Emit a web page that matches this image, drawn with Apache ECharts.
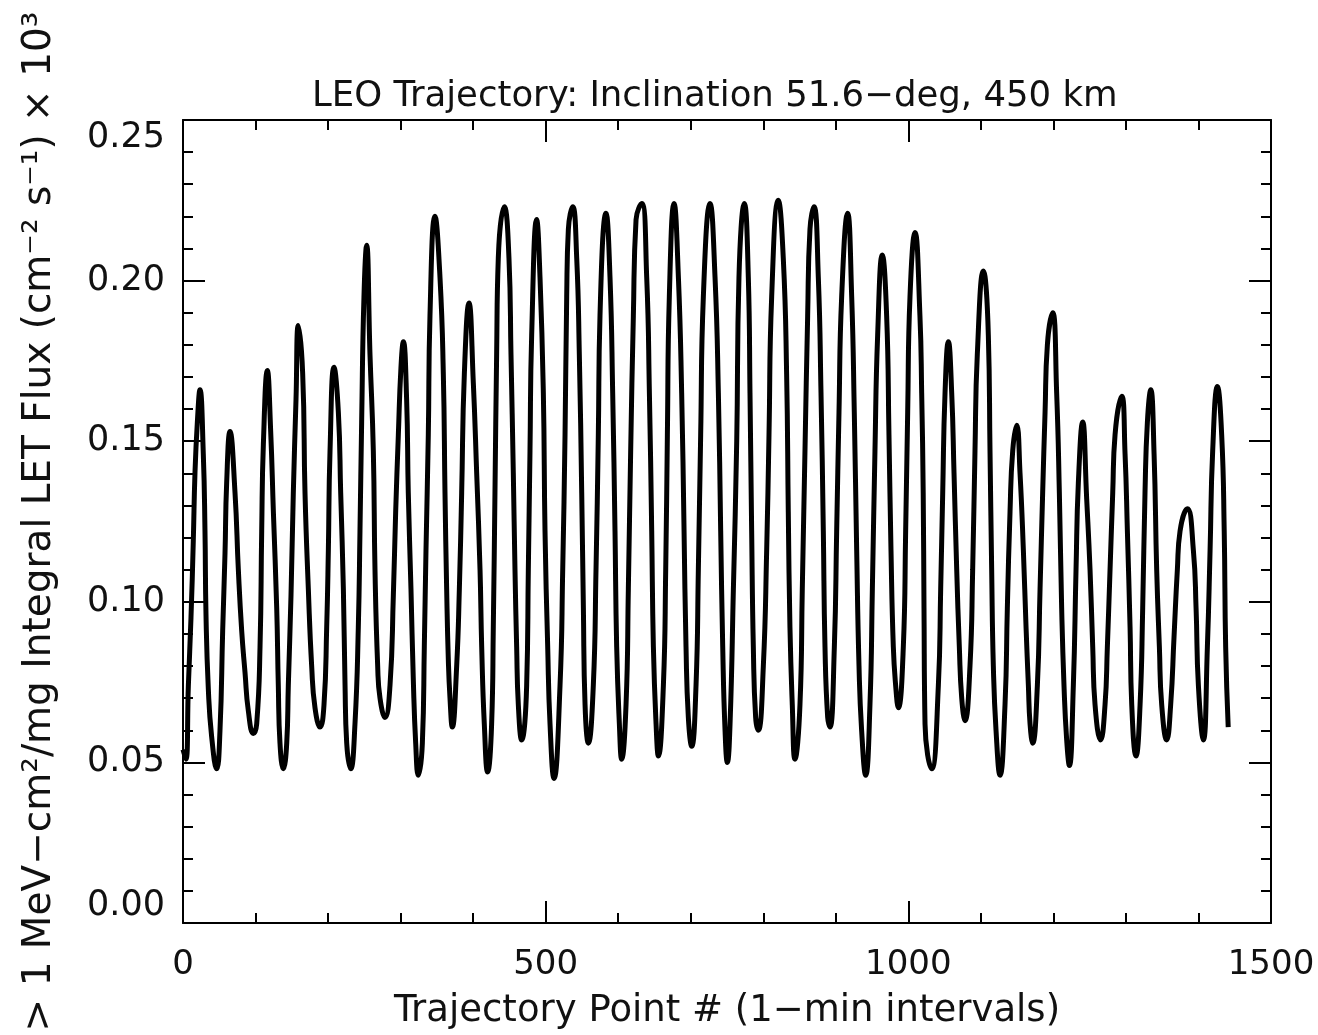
<!DOCTYPE html>
<html><head><meta charset="utf-8">
<script src="https://cdn.jsdelivr.net/npm/echarts@6/dist/echarts.min.js"></script>
<style>html,body{margin:0;padding:0;background:#fff}#c{width:1318px;height:1035px}</style>
</head><body><div id="c"></div>
<script>
// Trajectory point # (1-min intervals) (key points of the curve)
const pointIndex = [
  0, 4, 7.4, 11, 14.2, 16.5, 19.8, 23.4, 28, 30.3, 31.7, 34.9, 39.5, 46.4,
  51, 54.7, 57.9, 60.2, 64.8, 71.7, 76.3, 80.9, 85.5, 90.1, 97,
  101.6, 106.2, 108.5, 110.8, 116.3, 120.9, 124.6, 129.2, 131.4, 133.7, 138.3,
  143, 145.2, 148.9, 152.1, 155.8, 159, 165, 168.2, 172.8, 177.4, 182, 189,
  194.4, 198.1, 200.4, 202.7, 208.2, 214.2, 217.4, 221.1, 223.4, 225.7, 231.2,
  237.1, 241.7, 244, 246.3, 249.5, 253.2, 257.8, 262.4, 264.7, 268.4, 271.6, 278.5,
  285.4, 290, 293.2, 296.9, 300.5, 303.8, 308.3, 310.6, 314.3, 317.5, 320.8, 324.4,
  330, 332.7, 335, 338.2, 340.5, 347.4, 354.3, 358.9, 361.2, 363.5, 365.8, 368.1, 371.3,
  377.3, 381, 384.2, 387.9, 394.3, 400.3, 404.9, 409.5, 411.8, 415.4, 420,
  425.5, 427.8, 430.1, 432.4, 434.7, 443, 449.4, 452.2, 455.4, 457.7, 460, 462.3, 466.9,
  473.8, 476.1, 478.4, 480.7, 487.6, 492.2, 496.8, 499.1, 502.8, 506, 511.5,
  519.8, 523.5, 526.7, 529, 531.3, 537.3, 542.8, 546.4, 549.7, 552, 554.3, 558.9,
  565.7, 569.4, 572.6, 574.9, 583.2, 588.7, 592.4, 595.6, 597.9, 601.6, 604.8,
  610.8, 614, 617.2, 620.9, 624.6, 632.4, 639.3, 643, 646.2, 648.5, 652.2, 655.4,
  662.3, 665.5, 667.8, 670.5, 677, 683, 687.5, 690.8, 693.5, 696.7, 701.3,
  707.3, 710.5, 713.7, 717.4, 726.6, 733.5, 738.1, 741.3, 744.1, 747.3, 750.5,
  754.2, 758.8, 763.4, 766.5, 773.9, 779.4, 781.7, 784, 786.3, 789.5, 793.2,
  800.1, 804.7, 807.9, 811.6, 820.7, 827.6, 832.2, 834.5, 836.8, 840, 843.7,
  850.6, 853.8, 857.5, 861.2, 864.4, 869.9, 875.9, 879.6, 882.8, 885.1, 888.8, 892,
  898, 901.2, 904.4, 908.1, 916.3, 921.9, 925.5, 928.8, 932, 935.6, 941.2,
  947.1, 950.4, 954, 957.7, 964.1, 970.1, 973.3, 976.1, 979.3, 982.5, 986.2,
  993.1, 996.3, 999.1, 1002.3, 1009.2, 1016, 1018.4, 1020.5, 1021.6, 1023, 1032.2,
  1041.4, 1044.6, 1047.4, 1050.6, 1055.2, 1059.8, 1063, 1066.7, 1070.3, 1073.6, 1078.1,
  1085, 1088.7, 1091.9, 1095.1, 1103.4, 1110.3, 1112.6, 1114.9, 1117.2, 1120.9, 1126.4,
  1133.3, 1136.5, 1140.2, 1143.9, 1149.4, 1154, 1158.6, 1162.3, 1165.5, 1167.8, 1171.4,
  1177.9, 1181.6, 1185.2, 1188.5, 1191.7, 1199, 1204.5, 1208.2, 1211.4, 1214.6, 1218.3, 1222,
  1227.5, 1231.2, 1234.4, 1240.4, 1245.9, 1250.5, 1254.2, 1257.4, 1265,
  1271.2, 1274.4, 1278.1, 1281.8, 1285, 1294.2, 1298.8, 1302, 1305.7, 1308, 1313.9,
  1319.5, 1323.1, 1326.3, 1329.6, 1334.2, 1338.8, 1342.4, 1346.1, 1349.3, 1356.2,
  1361.7, 1366.3, 1370.9, 1374.6, 1384.7, 1393, 1396.7, 1399.9, 1406.8,
  1412.3, 1416, 1419.6, 1426.1, 1432, 1435.5, 1437.5, 1441
];
// > 1 MeV-cm2/mg integral LET flux (cm^-2 s^-1) x 10^3
const flux = [
  0.054, 0.051, 0.074, 0.095, 0.119, 0.140, 0.156, 0.166, 0.146, 0.122, 0.096, 0.073, 0.058, 0.048,
  0.060, 0.091, 0.115, 0.137, 0.153, 0.134, 0.110, 0.091, 0.078, 0.066, 0.059,
  0.062, 0.086, 0.122, 0.149, 0.172, 0.153, 0.128, 0.098, 0.074, 0.056, 0.048,
  0.056, 0.074, 0.102, 0.134, 0.163, 0.186, 0.171, 0.134, 0.104, 0.080, 0.067, 0.061,
  0.068, 0.092, 0.116, 0.147, 0.173, 0.159, 0.134, 0.104, 0.074, 0.056, 0.048,
  0.062, 0.092, 0.122, 0.156, 0.195, 0.211, 0.177, 0.147, 0.110, 0.080, 0.070, 0.064,
  0.074, 0.102, 0.128, 0.152, 0.173, 0.181, 0.163, 0.134, 0.104, 0.076, 0.056, 0.046,
  0.056, 0.086, 0.116, 0.152, 0.189, 0.220, 0.201, 0.171, 0.134, 0.104, 0.082, 0.070, 0.061,
  0.080, 0.104, 0.134, 0.171, 0.193, 0.168, 0.140, 0.110, 0.086, 0.062, 0.047,
  0.062, 0.092, 0.134, 0.177, 0.207, 0.223, 0.207, 0.177, 0.140, 0.110, 0.086, 0.068, 0.057,
  0.074, 0.110, 0.147, 0.183, 0.219, 0.201, 0.165, 0.122, 0.086, 0.062, 0.045,
  0.074, 0.110, 0.152, 0.195, 0.216, 0.223, 0.207, 0.177, 0.134, 0.098, 0.068, 0.056,
  0.074, 0.110, 0.152, 0.189, 0.221, 0.201, 0.165, 0.122, 0.086, 0.062, 0.051,
  0.068, 0.104, 0.147, 0.189, 0.219, 0.224, 0.201, 0.165, 0.122, 0.086, 0.062, 0.052,
  0.074, 0.110, 0.152, 0.195, 0.224, 0.201, 0.165, 0.122, 0.086, 0.064, 0.055,
  0.074, 0.110, 0.152, 0.195, 0.224, 0.201, 0.165, 0.122, 0.086, 0.060, 0.050,
  0.062, 0.104, 0.150, 0.201, 0.224, 0.201, 0.165, 0.122, 0.086, 0.064, 0.060,
  0.080, 0.116, 0.152, 0.195, 0.225, 0.207, 0.171, 0.128, 0.092, 0.068, 0.051,
  0.068, 0.104, 0.147, 0.189, 0.216, 0.223, 0.201, 0.165, 0.122, 0.086, 0.064, 0.061,
  0.086, 0.122, 0.159, 0.195, 0.221, 0.195, 0.159, 0.116, 0.080, 0.060, 0.046,
  0.068, 0.104, 0.147, 0.183, 0.208, 0.189, 0.152, 0.116, 0.086, 0.074, 0.067,
  0.086, 0.122, 0.159, 0.195, 0.215, 0.189, 0.165, 0.134, 0.098, 0.062, 0.048,
  0.074, 0.104, 0.134, 0.165, 0.181, 0.165, 0.140, 0.110, 0.086, 0.070, 0.063,
  0.080, 0.110, 0.147, 0.177, 0.203, 0.183, 0.147, 0.110, 0.080, 0.060, 0.046,
  0.068, 0.098, 0.128, 0.147, 0.155, 0.140, 0.116, 0.092, 0.074, 0.062, 0.056,
  0.074, 0.104, 0.134, 0.159, 0.180, 0.190, 0.165, 0.134, 0.098, 0.074, 0.057, 0.049,
  0.074, 0.110, 0.137, 0.156, 0.132, 0.110, 0.086, 0.068, 0.057,
  0.068, 0.086, 0.110, 0.134, 0.152, 0.164, 0.146, 0.122, 0.092, 0.068, 0.052,
  0.068, 0.098, 0.134, 0.156, 0.166, 0.146, 0.110, 0.086, 0.068, 0.057,
  0.068, 0.089, 0.110, 0.122, 0.129, 0.116, 0.098, 0.074, 0.057,
  0.086, 0.116, 0.147, 0.167, 0.152, 0.122, 0.086, 0.061
];
const xTickValues = [0, 500, 1000, 1500];
const yTickValues = [0.00, 0.05, 0.10, 0.15, 0.20, 0.25];

const titleText = 'LEO Trajectory: Inclination 51.6\u2212deg, 450 km';
const xName = 'Trajectory Point # (1\u2212min intervals)';
const yName = '> 1 MeV\u2212cm\u00b2/mg Integral LET Flux (cm\u207b\u00b2 s\u207b\u00b9) \u00d7 10\u00b3';

const FONT = 'DejaVu Sans';
const INK = '#000';
const TXT = '#111';

const chart = echarts.init(document.getElementById('c'), null, {renderer: 'canvas'});

function xAxisDef(pos, showLabel) {
  return {
    type: 'value', position: pos,
    min: xTickValues[0], max: xTickValues[xTickValues.length - 1],
    interval: xTickValues[1] - xTickValues[0],
    axisLine: {show: true, onZero: false, lineStyle: {color: INK, width: 2}},
    axisTick: {show: true, inside: true, length: 22, lineStyle: {color: INK, width: 2}},
    minorTick: {show: true, splitNumber: 5, length: 10, lineStyle: {color: INK, width: 2}},
    splitLine: {show: false}, minorSplitLine: {show: false},
    axisLabel: {show: showLabel, margin: 25, fontSize: 34, fontFamily: FONT, color: TXT,
      formatter: v => String(v)},
    name: showLabel ? xName : '', nameLocation: 'middle', nameGap: 70,
    nameTextStyle: {fontSize: 37, fontFamily: FONT, color: TXT}
  };
}
function yAxisDef(pos, showLabel) {
  return {
    type: 'value', position: pos,
    min: yTickValues[0], max: yTickValues[yTickValues.length - 1],
    interval: yTickValues[1] - yTickValues[0],
    axisLine: {show: true, onZero: false, lineStyle: {color: INK, width: 2}},
    axisTick: {show: true, inside: true, length: 22, lineStyle: {color: INK, width: 2}},
    minorTick: {show: true, splitNumber: 5, length: 10, lineStyle: {color: INK, width: 2}},
    splitLine: {show: false}, minorSplitLine: {show: false},
    axisLabel: {
      show: showLabel, margin: 18, fontSize: 35, fontFamily: FONT, color: TXT,
      formatter: v => v.toFixed(2),
      verticalAlignMinLabel: 'bottom', verticalAlignMaxLabel: 'top'
    },
    name: showLabel ? yName : '', nameLocation: 'middle', nameGap: 124, nameRotate: 90,
    nameTextStyle: {fontSize: 39, fontFamily: FONT, color: TXT}
  };
}

chart.setOption({
  backgroundColor: '#fff',
  animation: false,
  title: {
    text: titleText, left: 312, top: 79, padding: 0,
    textStyle: {fontSize: 35.5, fontWeight: 'normal', fontFamily: FONT, color: TXT}
  },
  grid: {left: 183, right: 47, top: 120, bottom: 112, containLabel: false, outerBoundsMode: 'none'},
  xAxis: [xAxisDef('bottom', true), xAxisDef('top', false)],
  yAxis: [yAxisDef('left', true), yAxisDef('right', false)],
  series: [{
    type: 'line', xAxisIndex: 0, yAxisIndex: 0,
    data: pointIndex.map((x, i) => [x, flux[i]]),
    showSymbol: false, smooth: 0.5,
    lineStyle: {color: INK, width: 5},
    clip: true
  }]
});
</script></body></html>
